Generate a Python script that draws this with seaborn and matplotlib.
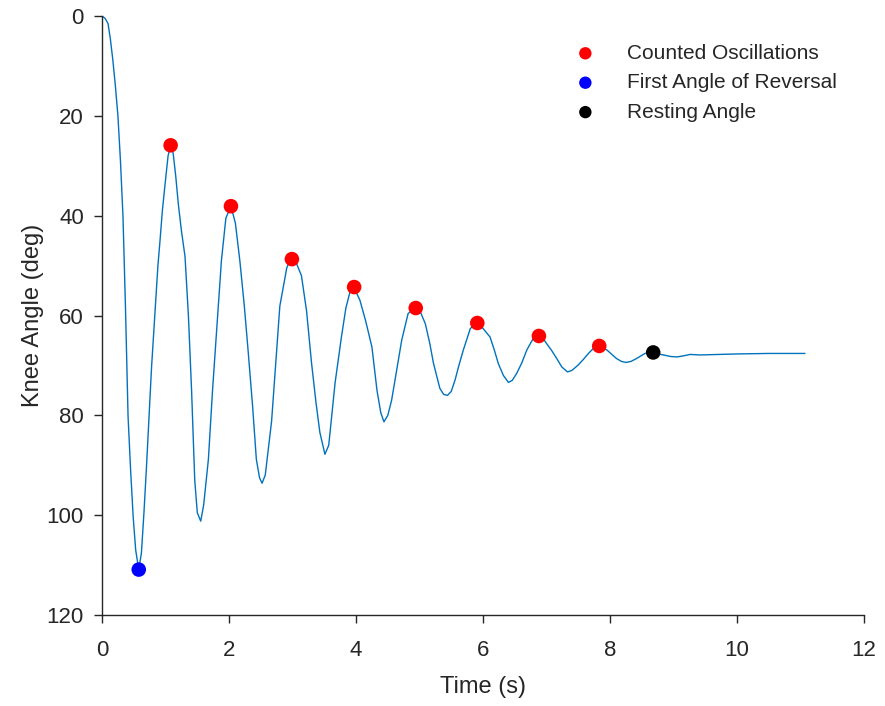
import matplotlib
matplotlib.use("Agg")
import matplotlib.pyplot as plt
import pandas as pd
import seaborn as sns

# knee angle trace (time in s, angle in deg)
time_s = [0, 0.05, 0.094, 0.13, 0.17, 0.21, 0.25, 0.29, 0.33, 0.37, 0.41, 0.45, 0.49, 0.53, 0.578,
          0.62, 0.66, 0.70, 0.74, 0.78, 0.83, 0.88, 0.913, 0.95, 0.99, 1.04, 1.08,
          1.12, 1.16, 1.20, 1.25, 1.307, 1.36, 1.41, 1.46, 1.50, 1.554,
          1.60, 1.675, 1.74, 1.81, 1.88, 1.95, 2.03,
          2.10, 2.17, 2.24, 2.30, 2.37, 2.43, 2.48, 2.52,
          2.57, 2.67, 2.80, 2.91, 2.96, 3.0,
          3.06, 3.14, 3.22, 3.30, 3.37, 3.43, 3.51,
          3.57, 3.67, 3.77, 3.84, 3.91, 3.96,
          4.06, 4.15, 4.25, 4.33, 4.39, 4.44,
          4.50, 4.56, 4.64, 4.72, 4.82, 4.90, 4.96,
          5.02, 5.09, 5.16, 5.22, 5.32, 5.38, 5.44,
          5.50, 5.56, 5.62, 5.69, 5.80, 5.90,
          6.0, 6.11, 6.18, 6.24, 6.32, 6.40,
          6.46, 6.53, 6.61, 6.69, 6.79, 6.88,
          6.94, 7.0, 7.08, 7.16, 7.24, 7.33,
          7.40, 7.50, 7.58, 7.66, 7.76, 7.83,
          7.95, 8.03, 8.10, 8.18, 8.25,
          8.33, 8.42, 8.55, 8.62, 8.67,
          8.75, 8.84, 8.95, 9.05, 9.15, 9.26, 9.42, 9.7, 10.0, 10.5, 11.07]
angle = [0, 0.5, 1.5, 4.5, 8.8, 14, 20, 29, 40.2, 58.9, 80.3, 91, 100.3, 107, 110.9,
         107.6, 99.5, 90.3, 80.5, 70.3, 60, 50, 45, 39, 34, 28, 25.9,
         27.5, 32, 37.5, 43, 48.2, 60, 75, 93, 99.5, 101.2,
         98, 88.8, 75, 62, 49, 40.5, 38.1,
         41.5, 49, 58, 67, 78, 88.8, 92.5, 93.6,
         92, 81.2, 58.1, 50.4, 49, 48.6,
         49.5, 52, 59, 69.6, 77.5, 83.4, 87.8,
         86, 73.5, 64.3, 58.5, 55, 54.2,
         56.9, 61, 66.3, 75, 79.5, 81.3,
         80, 77, 71, 64.9, 59.6, 58.8, 58.6,
         59.5, 61.6, 65.5, 69.6, 74.6, 75.8, 76.0,
         75.2, 72.9, 70, 66.9, 62.6, 61.5,
         62.6, 64.3, 67, 69.6, 72, 73.4,
         73.0, 71.6, 69.5, 66.9, 64.6, 64.1,
         64.5, 65.6, 67, 68.6, 70.3, 71.3,
         71.0, 69.9, 68.8, 67.6, 66.3, 66.1,
         66.9, 67.8, 68.6, 69.2, 69.4,
         69.2, 68.6, 67.6, 67.4, 67.5,
         67.7, 67.9, 68.2, 68.3, 68.1, 67.8, 67.9, 67.8, 67.7, 67.6, 67.6]

# marked points
osc_t = [1.08, 2.03, 2.99, 3.97, 4.94, 5.91, 6.88, 7.83]
osc_angle = [25.9, 38.1, 48.7, 54.3, 58.5, 61.5, 64.1, 66.1]
reversal_t = [0.578]
reversal_angle = [110.9]
rest_t = [8.68]
rest_angle = [67.4]

sns.set_style("ticks")
plt.rcParams['font.family'] = ['Liberation Sans', 'DejaVu Sans']
text_col = '#262626'

fig = plt.figure(figsize=(8.85, 7.06), dpi=100)
ax = fig.add_axes([0.1153, 0.1289, 0.861, 0.8484])

trace = pd.DataFrame({'t': time_s, 'angle': angle})
sns.lineplot(data=trace, x='t', y='angle', color='#0072BD', linewidth=1.0,
             sort=False, ax=ax, legend=False)

sns.scatterplot(x=osc_t, y=osc_angle, color='red', s=110, edgecolor='none',
                label='Counted Oscillations', ax=ax, zorder=3)
sns.scatterplot(x=reversal_t, y=reversal_angle, color='blue', s=110, edgecolor='none',
                label='First Angle of Reversal', ax=ax, zorder=3)
sns.scatterplot(x=rest_t, y=rest_angle, color='black', s=110, edgecolor='none',
                label='Resting Angle', ax=ax, zorder=3)

ax.set_xlim(0, 12)
ax.set_ylim(120, 0)
ax.set_xticks(range(0, 13, 2))
ax.set_yticks(range(0, 121, 20))
ax.tick_params(labelsize=16, colors=text_col, length=6, width=1, direction='out')
ax.tick_params(axis='x', pad=12)
ax.tick_params(axis='y', pad=7)
for side in ['left', 'bottom']:
    ax.spines[side].set_color(text_col)
    ax.spines[side].set_linewidth(1)
sns.despine(ax=ax)

ax.set_xlabel('Time (s)', fontsize=17, color=text_col, labelpad=11)
ax.set_ylabel('Knee Angle (deg)', fontsize=17, color=text_col, labelpad=2)

leg = ax.legend(loc='upper right', bbox_to_anchor=(0.989, 0.985), frameon=False,
                fontsize=15, handletextpad=1.0, labelspacing=0.5, markerscale=0.85)
for txt in leg.get_texts():
    txt.set_color(text_col)

fig.savefig('out.png', dpi=100)
